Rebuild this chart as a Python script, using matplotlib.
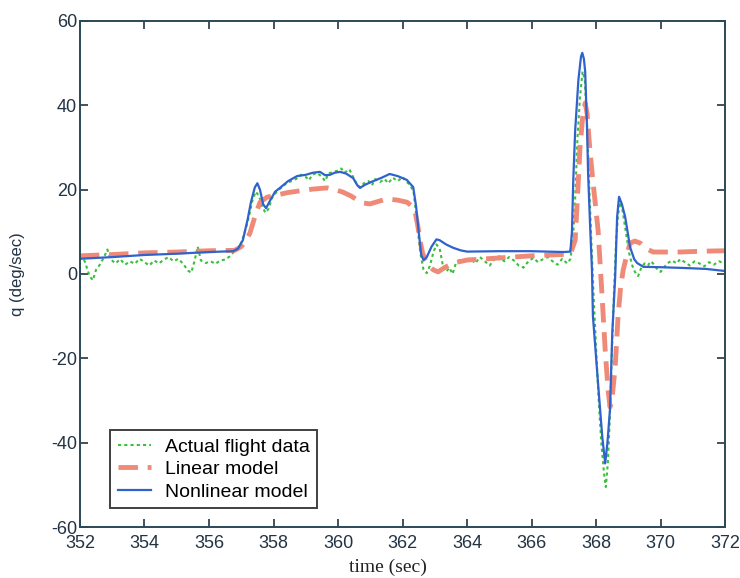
import matplotlib.pyplot as plt

# Actual flight data (noisy, dotted)
t_flight = [352.0, 352.15, 352.3, 352.4, 352.5, 352.6, 352.75, 352.85, 352.95, 353.1,
            353.25, 353.4, 353.55, 353.7, 353.85, 354.0, 354.15, 354.3, 354.45, 354.6,
            354.75, 354.9, 355.05, 355.2, 355.35, 355.45, 355.55, 355.65, 355.75, 355.9,
            356.05, 356.2, 356.35, 356.5, 356.65, 356.8, 356.95, 357.05, 357.15, 357.25,
            357.35, 357.45, 357.55, 357.65, 357.75, 357.85, 357.95, 358.1, 358.25, 358.4,
            358.55, 358.7, 358.85, 359.0, 359.1, 359.2, 359.35, 359.5, 359.6, 359.7,
            359.85, 360.0, 360.1, 360.2, 360.35, 360.5, 360.6, 360.7, 360.8, 360.95,
            361.05, 361.15, 361.3, 361.45, 361.55, 361.7, 361.85, 362.0, 362.1, 362.25,
            362.35, 362.45, 362.55, 362.65, 362.75, 362.85, 362.95, 363.05, 363.15, 363.25,
            363.35, 363.45, 363.55, 363.65, 363.8, 363.95, 364.1, 364.25, 364.4, 364.55,
            364.7, 364.85, 365.0, 365.15, 365.3, 365.45, 365.6, 365.75, 365.9, 366.05,
            366.2, 366.35, 366.5, 366.65, 366.8, 366.95, 367.1, 367.2, 367.28, 367.35,
            367.42, 367.5, 367.58, 367.65, 367.72, 367.78, 367.85, 367.92, 368.0, 368.08,
            368.16, 368.24, 368.3, 368.36, 368.42, 368.48, 368.55, 368.62, 368.68, 368.74,
            368.82, 368.92, 369.02, 369.12, 369.2, 369.3, 369.4, 369.5, 369.6, 369.7,
            369.8, 369.9, 370.0, 370.1, 370.2, 370.35, 370.5, 370.6, 370.75, 370.9,
            371.05, 371.2, 371.35, 371.5, 371.65, 371.8, 372.0]
q_flight = [4.5, 3.0, -0.5, -1.5, 1.0, 2.0, 4.0, 5.8, 3.5, 2.5,
            3.5, 2.2, 3.0, 2.4, 3.6, 2.8, 2.0, 3.2, 2.5, 3.4,
            4.0, 3.0, 3.6, 2.4, 0.8, 0.3, 3.0, 6.5, 3.2, 2.6,
            3.0, 2.4, 3.2, 3.4, 4.2, 5.5, 6.5, 8.5, 11.0, 14.0,
            17.5, 19.5, 18.5, 16.0, 14.5, 15.5, 18.0, 19.5, 20.5, 21.5,
            22.0, 22.5, 23.5, 23.0, 22.2, 23.5, 24.0, 23.0, 22.0, 23.8,
            24.2, 24.5, 25.0, 24.0, 24.8, 22.5, 21.0, 20.5, 21.5, 22.0,
            21.0, 22.5, 21.8, 22.5, 21.5, 22.8, 22.0, 23.0, 22.0, 21.0,
            19.0, 12.0, 5.0, 1.0, 0.2, 2.0, 5.0, 7.0, 6.0, 2.0,
            0.5, 1.5, 0.0, 2.5, 3.5, 2.8, 3.8, 2.5, 4.0, 3.0,
            2.0, 3.5, 4.2, 3.0, 4.0, 3.2, 2.0, 1.5, 3.0, 3.8,
            2.8, 3.5, 4.0, 3.0, 2.2, 3.6, 2.5, 3.5, 8.0, 18.0,
            32.0, 42.0, 48.0, 46.0, 35.0, 22.0, 8.0, -5.0, -18.0, -30.0,
            -40.0, -47.0, -50.5, -45.0, -35.0, -20.0, -5.0, 8.0, 14.0, 17.0,
            15.0, 10.0, 5.0, 2.0, 0.5, -0.5, 1.5, 2.5, 2.0, 3.0,
            2.2, 1.0, 0.5, 1.5, 2.5, 3.2, 2.5, 3.5, 2.8, 2.0,
            3.0, 2.5, 1.8, 2.8, 2.2, 3.0, 2.5]

# Linear model
t_linear = [352.0, 353.0, 354.0, 355.0, 356.0, 356.8, 357.0, 357.15, 357.27, 357.4,
            357.58, 357.8, 358.1, 358.45, 358.82, 359.2, 359.66, 359.9, 360.15, 360.4,
            360.6, 360.8, 360.99, 361.25, 361.52, 361.85, 362.14, 362.3, 362.39, 362.47,
            362.54, 362.62, 362.7, 362.8, 362.95, 363.1, 363.3, 363.57, 364.0, 365.0,
            366.0, 366.57, 367.2, 367.35, 367.42, 367.5, 367.58, 367.66, 367.72, 367.8,
            367.9, 368.06, 368.19, 368.28, 368.37, 368.43, 368.5, 368.59, 368.68, 368.76,
            368.84, 368.95, 369.05, 369.2, 369.37, 369.55, 369.77, 370.6, 371.3, 372.0]
q_linear = [4.3, 4.6, 5.0, 5.2, 5.5, 5.6, 6.5, 8.0, 9.7, 13.0,
            17.0, 18.2, 18.7, 19.3, 19.7, 20.1, 20.4, 20.0, 19.4, 18.5,
            17.5, 16.8, 16.6, 17.2, 17.8, 17.5, 17.0, 16.0, 14.7, 11.5,
            8.0, 5.0, 3.3, 2.1, 1.0, 0.5, 1.5, 2.6, 3.3, 3.8,
            4.3, 4.5, 4.7, 8.0, 18.0, 30.0, 37.0, 40.5, 38.0, 30.0,
            22.0, 10.4, -6.0, -18.0, -27.5, -31.5, -29.0, -22.0, -10.0, -3.0,
            1.0, 4.5, 7.3, 7.8, 7.3, 6.0, 5.2, 5.2, 5.4, 5.5]

# Nonlinear model
t_nonlin = [352.0, 353.0, 354.0, 355.0, 356.0, 356.75, 356.9, 357.05, 357.2, 357.3,
            357.42, 357.5, 357.58, 357.68, 357.77, 357.9, 358.05, 358.2, 358.45, 358.73,
            359.0, 359.22, 359.44, 359.6, 359.75, 359.9, 360.06, 360.25, 360.47, 360.6,
            360.68, 360.85, 361.09, 361.35, 361.6, 361.85, 362.13, 362.33, 362.42, 362.5,
            362.58, 362.65, 362.75, 362.9, 363.05, 363.15, 363.35, 363.57, 363.8, 364.0,
            365.0, 366.0, 367.0, 367.2, 367.25, 367.29, 367.35, 367.45, 367.53, 367.57,
            367.62, 367.66, 367.72, 367.75, 367.82, 367.87, 367.9, 368.06, 368.19, 368.28,
            368.35, 368.43, 368.5, 368.59, 368.65, 368.71, 368.8, 368.9, 369.05, 369.18,
            369.27, 369.46, 370.0, 370.8, 371.4, 372.0]
q_nonlin = [3.6, 4.0, 4.5, 4.8, 5.2, 5.4, 6.0, 8.0, 13.0, 17.0,
            20.5, 21.5, 20.0, 16.5, 15.6, 17.5, 19.5, 20.4, 22.0, 23.2,
            23.5, 24.0, 24.2, 23.4, 23.5, 24.0, 24.2, 23.8, 22.7, 21.0,
            20.4, 21.2, 22.0, 22.8, 23.7, 23.2, 22.3, 20.6, 16.0, 10.0,
            4.5, 3.3, 4.0, 6.5, 8.2, 8.0, 7.0, 6.2, 5.6, 5.3,
            5.4, 5.4, 5.2, 5.3, 10.0, 22.0, 34.0, 46.0, 51.5, 52.4,
            51.0, 48.0, 34.0, 24.0, 10.0, 1.0, -10.0, -26.0, -38.6, -44.9,
            -40.0, -32.0, -14.0, -0.7, 13.5, 18.3, 16.5, 13.5, 6.4, 3.5,
            2.6, 1.7, 1.6, 1.4, 1.2, 0.7]

x_ticks = list(range(352, 373, 2))
y_ticks = list(range(-60, 61, 20))

plt.rcParams['font.family'] = ['Liberation Sans', 'DejaVu Sans']
plt.rcParams['axes.unicode_minus'] = False

fig = plt.figure(figsize=(7.4, 5.78), dpi=100)
ax = fig.add_axes([0.108, 0.088, 0.872, 0.876])

ax.plot(t_flight, q_flight, color='#3cc03c', linestyle=(0, (1.5, 1.5)), linewidth=1.5,
        label='Actual flight data')
ax.plot(t_linear, q_linear, color='#f08a78', linestyle=(0, (4, 2)), linewidth=3.5,
        label='Linear model')
ax.plot(t_nonlin, q_nonlin, color='#2f62cc', linewidth=1.6, label='Nonlinear model')

ax.set_xlim(352, 372)
ax.set_ylim(-60, 60)
ax.set_xticks(x_ticks)
ax.set_yticks(y_ticks)
ax.tick_params(direction='in', top=True, right=True, length=6, width=1.2,
               labelsize=13, colors='#223344')
ax.tick_params(axis='x', pad=6)
ax.tick_params(axis='y', pad=2)
for sp in ax.spines.values():
    sp.set_linewidth(1.4)
    sp.set_color('#2a4a55')

ax.set_xlabel('time (sec)', family='Liberation Serif', fontsize=14, color='#222222')
ax.xaxis.set_label_coords(0.478, -0.062)
ax.set_ylabel('q (deg/sec)', fontsize=12, color='#223344')
ax.yaxis.set_label_coords(-0.085, 0.5)

leg = ax.legend(loc='lower left', bbox_to_anchor=(0.047, 0.037), fontsize=14,
                frameon=True, fancybox=False, borderpad=0.4, labelspacing=0.25,
                handlelength=1.7, handletextpad=0.7, borderaxespad=0.0)
leg.get_frame().set_edgecolor('#111111')
leg.get_frame().set_linewidth(1.4)

fig.savefig('out.png', dpi=100)
